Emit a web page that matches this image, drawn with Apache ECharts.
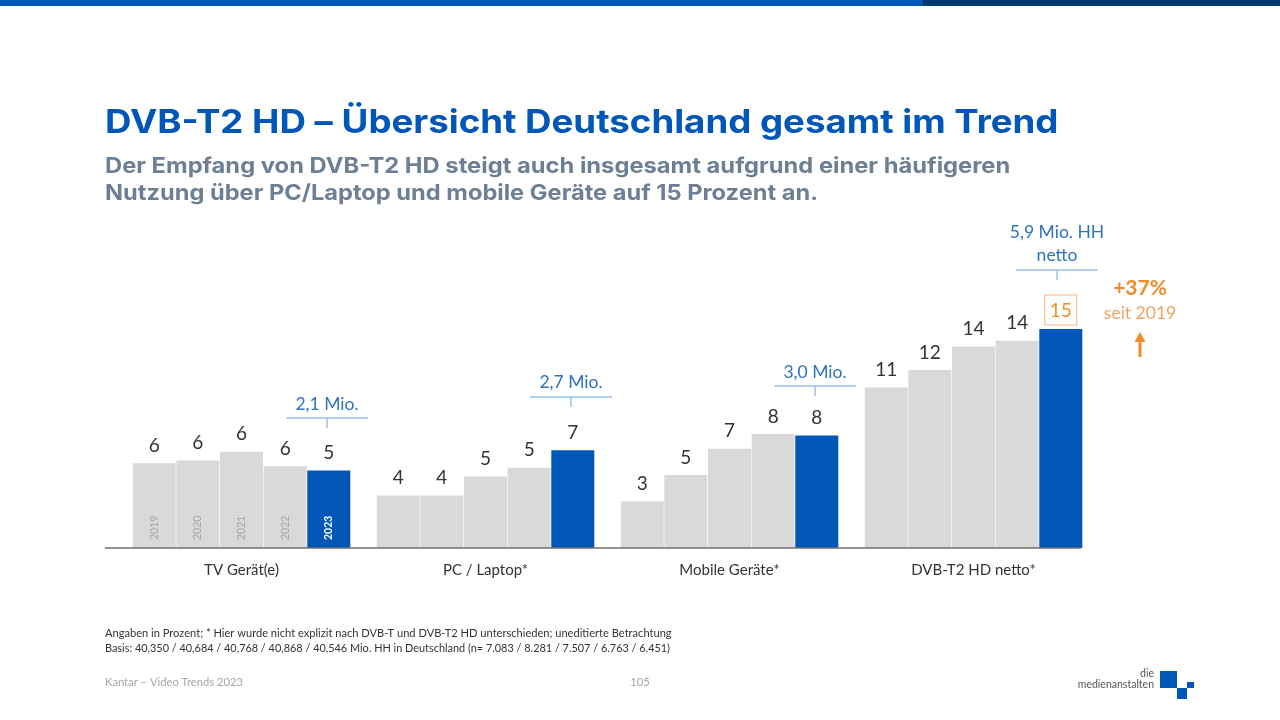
<!DOCTYPE html>
<html lang="de">
<head>
<meta charset="UTF-8">
<title>DVB-T2 HD – Übersicht Deutschland gesamt im Trend</title>
<style>
    html, body {margin: 0; padding: 0; background: #fff;}
    #chart {width: 1280px; height: 720px;}
</style>
<script src="https://cdn.jsdelivr.net/npm/echarts@6/dist/echarts.min.js"></script>
</head>
<body>
<div id="chart"></div>
<script>
    // Kategorien und Jahre
    const categories = ['TV Gerät(e)', 'PC / Laptop*', 'Mobile Geräte*', 'DVB-T2 HD netto*'];
    const years = ['2019', '2020', '2021', '2022', '2023'];

    // Balkenhoehen, aus dem Bild geschaetzt
    const values2019 = [5.8, 3.6, 3.2, 11.0];
    const values2020 = [6.0, 3.6, 5.0, 12.2];
    const values2021 = [6.6, 4.9, 6.8, 13.8];
    const values2022 = [5.6, 5.5, 7.8, 14.2];
    const values2023 = [5.3, 6.7, 7.7, 15.0];

    // gedruckte (gerundete) Werte
    const labels2019 = [6, 4, 3, 11];
    const labels2020 = [6, 4, 5, 12];
    const labels2021 = [6, 5, 7, 14];
    const labels2022 = [6, 5, 8, 14];
    const labels2023 = [5, 7, 8, 15];

    const callouts = ['2,1 Mio.', '2,7 Mio.', '3,0 Mio.', '5,9 Mio. HH\nnetto'];

    const allValues = [values2019, values2020, values2021, values2022, values2023];
    const allLabels = [labels2019, labels2020, labels2021, labels2022, labels2023];

    const BLUE = '#0057b8';
    const GREY = '#d9d9d9';
    const ORANGE = '#f08a2c';
    const LINK = '#2f72bd';
    const LINE = '#9dc1e6';
    const BODY = 'Lato';
    const HEAD = 'Inter';

    let series = [];
    years.forEach(function (year, i) {
        let isLast = i === years.length - 1;
        series.push({
            name: year,
            type: 'bar',
            barWidth: 43,
            barGap: '1.5%',
            itemStyle: {color: isLast ? BLUE : GREY},
            label: {
                show: true,
                position: 'top',
                distance: 8,
                fontFamily: BODY,
                fontSize: 19,
                color: '#333',
                formatter: function (p) {
                    return allLabels[i][p.dataIndex];
                }
            },
            data: allValues[i].map(function (v, k) {
                // 15 im orangen Kasten
                if (isLast && k === categories.length - 1) {
                    return {
                        value: v,
                        label: {
                            color: ORANGE,
                            borderColor: '#f5b47a',
                            borderWidth: 1,
                            padding: [6, 5, 5, 5],
                            distance: 4
                        }
                    };
                }
                return v;
            })
        });
        // Jahreszahlen nur in der ersten Gruppe, eigene Achse damit sie ueber den Balken liegen
        series.push({
            name: year + ' Jahr',
            type: 'bar',
            xAxisIndex: 1,
            yAxisIndex: 1,
            barWidth: 43,
            barGap: '1.5%',
            silent: true,
            itemStyle: {color: 'transparent'},
            label: {
                show: true,
                position: 'insideBottom',
                distance: 8,
                rotate: 90,
                align: 'left',
                verticalAlign: 'middle',
                fontFamily: BODY,
                fontSize: 10.5,
                fontWeight: isLast ? 'bold' : 'normal',
                color: isLast ? '#fff' : '#a3a3a3',
                formatter: year
            },
            data: [allValues[i][0]]
        });
    });

    function text(x, y, str, size, color, extra, scaleX) {
        return {
            type: 'text',
            x: x,
            y: y,
            scaleX: scaleX || 1,
            silent: true,
            style: Object.assign({
                text: str,
                fontSize: size,
                fill: color,
                fontFamily: BODY,
                verticalAlign: 'middle'
            }, extra || {})
        };
    }

    function line(x1, y1, x2, y2, color, width) {
        return {
            type: 'line',
            silent: true,
            z: 10,
            shape: {x1: x1, y1: y1, x2: x2, y2: y2},
            style: {stroke: color, lineWidth: width}
        };
    }

    function box(x, y, w, h, color) {
        return {type: 'rect', silent: true, shape: {x: x, y: y, width: w, height: h}, style: {fill: color}};
    }

    function callout(cx, lineY, str, textY) {
        return [
            text(cx, textY, str, 17.5, LINK, {align: 'center', lineHeight: 23}),
            line(cx - 41, lineY, cx + 41, lineY, LINE, 1.5),
            line(cx, lineY, cx, lineY + 10, LINE, 1.5)
        ];
    }

    const graphics = [
        // Kopfleiste
        box(0, 0, 923, 6, BLUE),
        box(923, 0, 357, 6, '#003a70'),
        // Titel, Inter etwas breiter gezogen
        text(105, 123, 'DVB-T2 HD – Übersicht Deutschland gesamt im Trend', 33, BLUE, {fontFamily: HEAD, fontWeight: 700}, 1.11),
        text(105, 167, 'Der Empfang von DVB-T2 HD steigt auch insgesamt aufgrund einer häufigeren', 21.5, '#6c7f94', {fontFamily: HEAD, fontWeight: 700}, 1.104),
        text(105, 194, 'Nutzung über PC/Laptop und mobile Geräte auf 15 Prozent an.', 21.5, '#6c7f94', {fontFamily: HEAD, fontWeight: 700}, 1.1),
        // Grundlinie
        line(105, 548, 1081, 548, '#6f6f6f', 1.5),
        // +37 %
        text(1140, 288, '+37%', 21, ORANGE, {align: 'center', fontWeight: 'bold'}),
        text(1140, 313, 'seit 2019', 17.5, '#f3a362', {align: 'center'}),
        line(1140, 357, 1140, 340, ORANGE, 3),
        {
            type: 'polygon',
            silent: true,
            shape: {points: [[1134.5, 342], [1140, 332], [1145.5, 342]]},
            style: {fill: ORANGE}
        },
        // Fussnoten
        text(105, 633, 'Angaben in Prozent; * Hier wurde nicht explizit nach DVB-T und DVB-T2 HD unterschieden; uneditierte Betrachtung', 11.1, '#333'),
        text(105, 648, 'Basis: 40,350 / 40,684 / 40,768 / 40,868 / 40,546 Mio. HH in Deutschland (n= 7.083 / 8.281 / 7.507 / 6.763 / 6.451)', 10.9, '#333'),
        text(105, 682, 'Kantar – Video Trends 2023', 11.2, '#a6a6a6'),
        text(640, 682, '105', 11.2, '#a6a6a6', {align: 'center'}),
        // Logo
        text(1154, 674, 'die', 10.5, '#555', {align: 'right'}),
        text(1154, 685, 'medienanstalten', 10.5, '#555', {align: 'right'}),
        box(1160, 671, 17, 17, BLUE),
        box(1177, 688, 10, 11, BLUE),
        box(1187, 682, 7, 6, BLUE)
    ].concat(
        callout(327, 418, callouts[0], 404),
        callout(571, 397, callouts[1], 382),
        callout(815, 386, callouts[2], 372),
        callout(1057, 270, callouts[3], 244)
    );

    let myChart = echarts.init(document.getElementById('chart'));
    myChart.setOption({
        animation: false,
        backgroundColor: '#fff',
        grid: {left: 119.5, width: 976, top: 256, height: 292},
        xAxis: [
            {
                type: 'category',
                data: categories,
                axisLine: {show: false},
                axisTick: {show: false},
                axisLabel: {
                    margin: 15,
                    fontFamily: BODY,
                    fontSize: 15,
                    color: '#333'
                }
            },
            {
                type: 'category',
                data: categories,
                show: false
            }
        ],
        yAxis: [
            {type: 'value', min: 0, max: 20, show: false},
            {type: 'value', min: 0, max: 20, show: false}
        ],
        series: series,
        graphic: {elements: graphics}
    });
</script>
</body>
</html>
